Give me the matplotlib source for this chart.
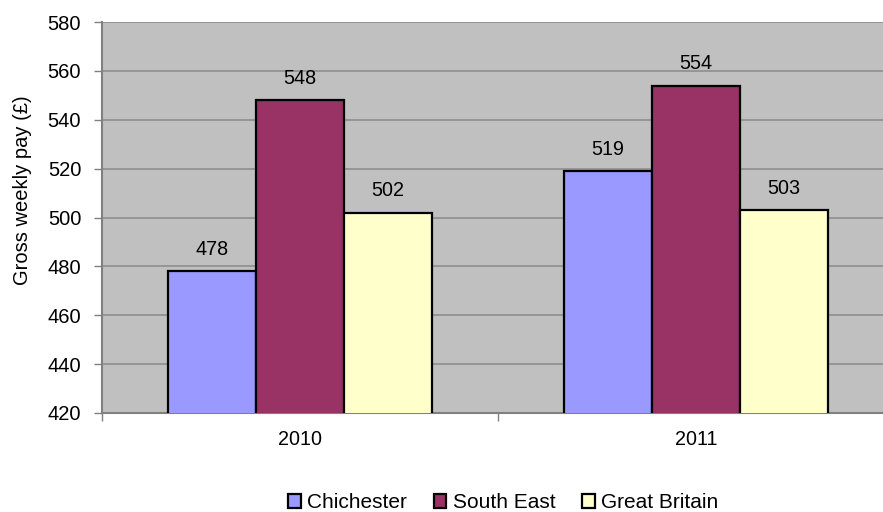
import numpy as np
import matplotlib.pyplot as plt

plt.rcParams['font.family'] = ['Liberation Sans', 'DejaVu Sans']

years = ["2010", "2011"]
areas = ["Chichester", "South East", "Great Britain"]
chichester = [478, 519]
south_east = [548, 554]
great_britain = [502, 503]
colors = ["#9999FF", "#993366", "#FFFFCC"]

fig = plt.figure(figsize=(8.83, 5.12), dpi=100)
ax = fig.add_axes([102 / 883, 1 - 413 / 512, 792 / 883, 391 / 512])
ax.set_facecolor("#C0C0C0")

x = np.arange(len(years))
w = 1 / 4.5  # Excel-style gap width of 150%
series = [chichester, south_east, great_britain]
for i, (vals, name, c) in enumerate(zip(series, areas, colors)):
    pos = x + (i - 1) * w
    ax.bar(pos, vals, width=w, color=c, edgecolor="black", linewidth=1.6,
           label=name, zorder=3)
    for px, v in zip(pos, vals):
        ax.text(px, v + 5, f"{v}", ha="center", va="bottom", fontsize=14.2,
                zorder=4)

ax.set_ylim(420, 580)
ax.set_yticks(np.arange(420, 581, 20))
ax.set_xlim(-0.5, 1.5)
ax.set_xticks(x)
ax.set_xticklabels(years)
ax.set_xticks([-0.5, 0.5, 1.5], minor=True)
ax.tick_params(axis="x", which="major", length=0, pad=12, labelsize=14.2)
ax.tick_params(axis="x", which="minor", length=6, color="#808080", width=1)
ax.tick_params(axis="y", length=6, color="#808080", width=1, labelsize=14.5,
               pad=9)
ax.yaxis.grid(True, color="#8A8A8A", linewidth=1.1, zorder=1)
ax.set_axisbelow(True)

for s in ["top", "right"]:
    ax.spines[s].set_visible(False)
ax.spines["left"].set_color("#808080")
ax.spines["left"].set_linewidth(1.5)
ax.spines["bottom"].set_color("#808080")
ax.spines["bottom"].set_linewidth(1.5)

ax.set_ylabel("Gross weekly pay (£)", fontsize=14.5)
ax.yaxis.set_label_coords(-0.089, 0.57)

fig.legend(loc="center", bbox_to_anchor=(0.57, 0.018), ncol=3, frameon=False,
           fontsize=15, handlelength=0.6, handleheight=0.6, handletextpad=0.3,
           columnspacing=1.3)

fig.savefig("out.png", dpi=100)
